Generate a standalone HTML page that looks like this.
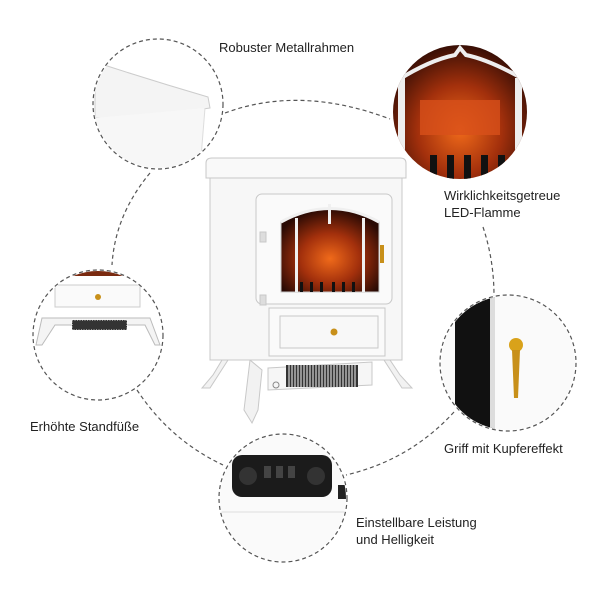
<!DOCTYPE html>
<html><head><meta charset="utf-8"><style>
html,body{margin:0;padding:0;background:#fff;}
svg{display:block;}
text{font-family:"Liberation Sans",sans-serif;font-size:13px;fill:#222;}
</style></head><body>
<svg width="600" height="600" viewBox="0 0 600 600" xmlns="http://www.w3.org/2000/svg">
<defs>
<radialGradient id="fire" cx="50%" cy="60%" r="60%">
<stop offset="0" stop-color="#f06a1a"/><stop offset="0.5" stop-color="#a3300c"/><stop offset="1" stop-color="#2a0a04"/>
</radialGradient>
<clipPath id="c2"><circle cx="460" cy="112" r="67"/></clipPath>
<clipPath id="c4"><circle cx="508" cy="363" r="67"/></clipPath>
<clipPath id="c5"><circle cx="283" cy="498" r="63"/></clipPath>
<clipPath id="c3"><circle cx="98" cy="335" r="64"/></clipPath>
<clipPath id="c1"><circle cx="158" cy="104" r="64"/></clipPath>
</defs>
<g fill="none" stroke="#555" stroke-width="1.2" stroke-dasharray="4,3">
<path d="M225,113 Q300,85 390,119"/>
<path d="M483,227 Q494,260 494,296"/>
<path d="M454,412 Q410,460 346,475"/>
<path d="M137,390 Q170,440 223,465"/>
<path d="M150,173 Q115,215 112,265"/>
<circle cx="158" cy="104" r="65"/>
<circle cx="98" cy="335" r="65"/>
<circle cx="508" cy="363" r="68"/>
<circle cx="283" cy="498" r="64"/>
</g>
<!-- top-left circle content -->
<g clip-path="url(#c1)">
<path d="M95,62 Q150,80 208,97 L210,108 Q180,112 150,118 L95,118 Z" fill="#f4f4f4" stroke="#ccc"/>
<path d="M205,108 L200,170 L95,170 L95,118" fill="#f7f7f7" stroke="#ddd"/>
</g>
<!-- top-right fire circle -->
<g clip-path="url(#c2)">
<rect x="390" y="40" width="140" height="150" fill="url(#fire)"/>
<rect x="420" y="100" width="80" height="35" fill="#d8501a" opacity="0.8"/>
<path d="M398,80 Q430,60 455,55 L460,48 L466,55 Q490,60 525,80" stroke="#eee" stroke-width="4" fill="none"/>
<rect x="398" y="78" width="7" height="110" fill="#eee"/>
<rect x="515" y="78" width="7" height="110" fill="#eee"/>
<g fill="#111"><rect x="430" y="155" width="7" height="25"/><rect x="447" y="155" width="7" height="25"/><rect x="464" y="155" width="7" height="25"/><rect x="481" y="155" width="7" height="25"/><rect x="498" y="155" width="7" height="25"/></g>
</g>
<!-- left circle -->
<g clip-path="url(#c3)">
<rect x="40" y="268" width="120" height="8" fill="#7a2a10"/>
<rect x="55" y="285" width="85" height="22" fill="#fafafa" stroke="#ccc"/>
<circle cx="98" cy="297" r="3" fill="#c8901a"/>
<path d="M42,318 L150,318 L160,345 L155,345 L145,325 L55,325 L42,345 L36,345 Z" fill="#f4f4f4" stroke="#bbb"/>
<rect x="72" y="320" width="55" height="10" fill="#333"/>
<rect x="72" y="320" width="55" height="10" fill="none" stroke="#fff" stroke-dasharray="1,1.5"/>
</g>
<!-- right circle -->
<g clip-path="url(#c4)">
<rect x="440" y="290" width="140" height="150" fill="#fafafa"/>
<rect x="455" y="290" width="40" height="150" fill="#111"/>
<rect x="490" y="290" width="5" height="150" fill="#ddd"/>
<circle cx="516" cy="345" r="7" fill="#d9a21a"/>
<path d="M512,350 L520,350 L518,398 L514,398 Z" fill="#c8901a"/>
</g>
<!-- bottom circle -->
<g clip-path="url(#c5)">
<rect x="215" y="430" width="140" height="140" fill="#fafafa"/>
<rect x="232" y="455" width="100" height="42" rx="10" fill="#1b1b1b"/>
<circle cx="248" cy="476" r="9" fill="#333"/>
<circle cx="316" cy="476" r="9" fill="#333"/>
<rect x="264" y="466" width="7" height="12" fill="#444"/><rect x="276" y="466" width="7" height="12" fill="#444"/><rect x="288" y="466" width="7" height="12" fill="#444"/>
<line x1="220" y1="512" x2="350" y2="512" stroke="#ddd"/>
<rect x="338" y="485" width="8" height="14" fill="#222"/>
</g>
<!-- main stove -->
<g stroke="#c8c8c8" stroke-width="1">
<path d="M213,375 L222,360 L228,360 L210,388 L202,388 Z" fill="#f2f2f2"/>
<path d="M400,375 L390,360 L384,360 L402,388 L412,388 Z" fill="#f2f2f2"/>
<path d="M250,360 L244,410 L252,423 L258,410 L262,370 Z" fill="#f2f2f2"/>
<rect x="210" y="176" width="192" height="184" fill="#f7f7f7"/>
<path d="M206,163 Q206,158 212,158 L400,158 Q406,158 406,163 L406,178 L206,178 Z" fill="#f9f9f9"/>
<rect x="256" y="194" width="136" height="110" rx="6" fill="#fafafa"/>
<path d="M281,292 L281,222 Q330,195 379,222 L379,292 Z" fill="url(#fire)"/>
<path d="M281,222 Q330,195 379,222" stroke="#f0f0f0" stroke-width="3" fill="none"/>
<g fill="#f0f0f0" stroke="none"><rect x="295" y="218" width="3" height="74"/><rect x="362" y="218" width="3" height="74"/><rect x="328" y="204" width="3" height="20"/></g>
<g fill="#111" stroke="none"><rect x="300" y="282" width="3" height="10"/><rect x="310" y="282" width="3" height="10"/><rect x="320" y="282" width="3" height="10"/><rect x="332" y="282" width="3" height="10"/><rect x="342" y="282" width="3" height="10"/><rect x="352" y="282" width="3" height="10"/></g>
<rect x="380" y="245" width="4" height="18" fill="#c8901a" stroke="none"/>
<rect x="260" y="232" width="6" height="10" fill="#ddd"/>
<rect x="260" y="295" width="6" height="10" fill="#ddd"/>
<rect x="269" y="308" width="116" height="48" fill="#fafafa"/>
<rect x="280" y="316" width="98" height="32" fill="#f8f8f8"/>
<circle cx="334" cy="332" r="3.5" fill="#c8901a" stroke="none"/>
<path d="M268,368 L372,362 L372,385 L268,390 Z" fill="#f6f6f6"/>
</g>
<rect x="286" y="365" width="72" height="22" fill="#333"/>
<g stroke="#f5f5f5" stroke-width="1">
<path d="M289,365v22M292,365v22M295,365v22M298,365v22M301,365v22M304,365v22M307,365v22M310,365v22M313,365v22M316,365v22M319,365v22M322,365v22M325,365v22M328,365v22M331,365v22M334,365v22M337,365v22M340,365v22M343,365v22M346,365v22M349,365v22M352,365v22M355,365v22"/>
</g>
<circle cx="276" cy="385" r="3" fill="none" stroke="#888"/>
<text x="219" y="52">Robuster Metallrahmen</text>
<text x="444" y="200">Wirklichkeitsgetreue</text>
<text x="444" y="217">LED-Flamme</text>
<text x="30" y="431">Erhöhte Standfüße</text>
<text x="444" y="453">Griff mit Kupfereffekt</text>
<text x="356" y="527">Einstellbare Leistung</text>
<text x="356" y="544">und Helligkeit</text>
</svg>
</body></html>
